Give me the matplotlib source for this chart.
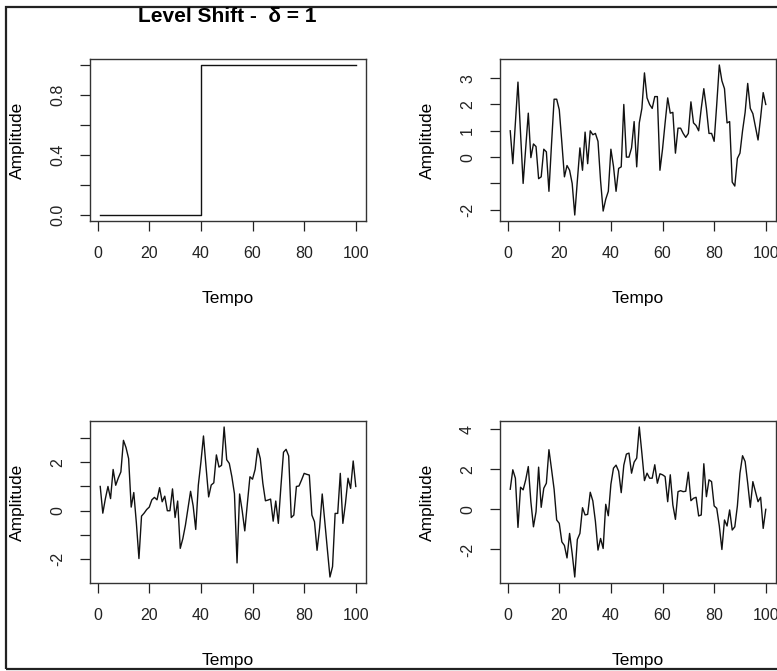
import numpy as np
import matplotlib.pyplot as plt
from matplotlib.patches import Rectangle

plt.rcParams['font.family'] = ['Liberation Sans', 'DejaVu Sans']

# time index
tempo = list(range(1, 101))

# level shift: 0 before t=40, 1 from t=40 on
shift_at = 40
level = [0.0 if t < shift_at else 1.0 for t in tempo]

# the three series
serie_a = [1.0, -0.25, 1.3, 2.85, 0.9, -1.0, 0.35, 1.67, -0.02, 0.5,
           0.4, -0.82, -0.75, 0.3, 0.2, -1.3, 0.5, 2.2, 2.2, 1.8,
           0.55, -0.75, -0.32, -0.5, -1.0, -2.2, -0.9, 0.35, -0.5, 0.95,
           -0.25, 1.0, 0.85, 0.9, 0.6, -0.9, -2.05, -1.6, -1.3, 0.3,
           -0.35, -1.3, -0.43, -0.37, 2.0, 0.0, 0.0, 0.35, 1.35, -0.37,
           1.3, 1.85, 3.2, 2.25, 2.0, 1.85, 2.3, 2.3, -0.5, 0.3,
           1.3, 2.25, 1.67, 1.7, 0.15, 1.1, 1.1, 0.9, 0.75, 0.9,
           2.1, 1.3, 1.2, 1.0, 1.85, 2.6, 1.85, 0.9, 0.9, 0.6,
           2.0, 3.5, 2.9, 2.6, 1.3, 1.35, -0.95, -1.1, -0.05, 0.15,
           1.0, 1.7, 2.8, 1.85, 1.65, 1.15, 0.65, 1.5, 2.45, 2.0]

serie_b = [1.0, -0.1, 0.5, 1.0, 0.5, 1.7, 1.05, 1.35, 1.6, 2.9,
           2.6, 2.15, 0.15, 0.75, -0.5, -1.97, -0.22, -0.1, 0.05, 0.15,
           0.45, 0.55, 0.45, 0.95, 0.37, 0.6, 0.0, 0.0, 0.9, -0.28,
           0.4, -1.55, -1.15, -0.6, 0.1, 0.8, 0.2, -0.77, 1.05, 2.0,
           3.08, 1.8, 0.57, 1.06, 1.15, 2.3, 1.8, 1.87, 3.45, 2.1,
           1.95, 1.4, 0.7, -2.15, 0.69, 0.0, -0.83, 0.3, 1.4, 1.3,
           1.7, 2.57, 2.15, 1.13, 0.41, 0.44, 0.48, -0.43, 0.4, -0.52,
           1.0, 2.41, 2.53, 2.26, -0.28, -0.18, 1.0, 1.02, 1.27, 1.54,
           1.5, 1.47, -0.18, -0.45, -1.63, -0.7, 0.69, -0.45, -1.6, -2.73,
           -2.3, -0.11, -0.11, 1.54, -0.52, 0.3, 1.34, 0.92, 2.05, 1.0]

serie_c = [1.0, 1.97, 1.55, -0.9, 1.1, 0.97, 1.47, 2.13, 0.38, -0.87,
           -0.12, 2.1, 0.1, 1.05, 1.3, 2.97, 2.0, 1.0, -0.53, -0.7,
           -1.62, -1.8, -2.42, -1.2, -2.2, -3.37, -1.5, -1.2, 0.08, -0.28,
           -0.25, 0.85, 0.42, -0.6, -2.03, -1.45, -1.95, 0.25, -0.32, 1.25,
           2.05, 2.2, 1.9, 0.83, 2.2, 2.75, 2.8, 1.8, 2.35, 2.55,
           4.1, 2.8, 1.43, 1.8, 1.55, 1.55, 2.22, 1.3, 1.77, 1.72,
           1.63, 0.38, 1.72, 0.22, -0.5, 0.88, 0.93, 0.88, 0.9, 1.85,
           0.43, 0.55, 0.6, -0.33, -0.28, 2.27, 0.63, 1.47, 1.38, 0.17,
           0.05, -0.83, -2.0, -0.53, -0.83, -0.03, -1.03, -0.87, 0.17, 1.8,
           2.67, 2.38, 1.3, 0.1, 1.38, 0.88, 0.38, 0.6, -0.95, 0.0]

x_ticks = [0, 20, 40, 60, 80, 100]
y_ticks_level = [0.0, 0.2, 0.4, 0.6, 0.8, 1.0]
y_labels_level = ['0.0', '', '0.4', '', '0.8', '']
y_ticks_a = [-2, -1, 0, 1, 2, 3]
y_labels_a = ['-2', '', '0', '1', '2', '3']
y_ticks_b = [-2, -1, 0, 1, 2, 3]
y_labels_b = ['-2', '', '0', '', '2', '']
y_ticks_c = [-2, 0, 2, 4]
y_labels_c = ['-2', '0', '2', '4']

W, H = 777, 671
fig = plt.figure(figsize=(W / 100, H / 100), dpi=100)

# outer frame of the screenshot
fig.patches.append(Rectangle((6 / W, 2 / H), 1.2, 1 - 9 / H, transform=fig.transFigure,
                             fill=False, edgecolor='#222222', linewidth=1.6))


def panel(left_px, top_px, x, y, yticks, ylabels, step=False):
    ax = fig.add_axes([left_px / W, 1 - (top_px + 162) / H, 276 / W, 162 / H])
    if step:
        ax.plot(x, y, color='#111111', linewidth=1.0, drawstyle='steps-post')
    else:
        ax.plot(x, y, color='#111111', linewidth=1.0)
    ax.margins(x=0.04, y=0.04)
    ax.set_xticks(x_ticks)
    ax.set_yticks(yticks)
    ax.set_yticklabels(ylabels)
    ax.tick_params(direction='out', length=7, width=0.9, pad=11, labelsize=11.5,
                   colors='#222222')
    for lab in ax.get_yticklabels():
        lab.set_rotation(90)
        lab.set_va('center')
    for s in ax.spines.values():
        s.set_linewidth(1.0)
        s.set_color('#333333')
    ax.set_xlabel('Tempo', fontsize=12.5, va='center')
    ax.set_ylabel('Amplitude', fontsize=12.5, va='center')
    ax.xaxis.set_label_coords(0.5, -77 / 162)
    ax.yaxis.set_label_coords(-73 / 276, 0.5)
    return ax


ax1 = panel(90, 59, tempo, level, y_ticks_level, y_labels_level, step=True)
ax2 = panel(500, 59, tempo, serie_a, y_ticks_a, y_labels_a)
ax3 = panel(90, 421, tempo, serie_b, y_ticks_b, y_labels_b)
ax4 = panel(500, 421, tempo, serie_c, y_ticks_c, y_labels_c)

fig.text(227 / W, 1 - 17 / H, 'Level Shift -  δ = 1', ha='center', va='center',
         fontsize=15, fontweight='bold')

fig.savefig('out.png', dpi=100)
